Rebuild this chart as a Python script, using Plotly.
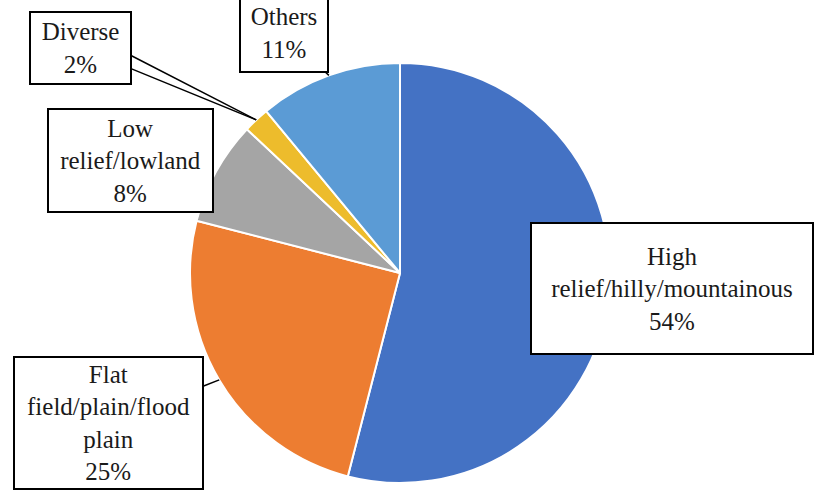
import math
import plotly.graph_objects as go

# ---- data ----
categories = ["High<br>relief/hilly/mountainous", "Flat<br>field/plain/flood<br>plain",
              "Low<br>relief/lowland", "Diverse", "Others"]
values = [54, 25, 8, 2, 11]
colors = ["#4472C4", "#ED7D31", "#A5A5A5", "#EDBC2C", "#5B9BD5"]

W, H = 814, 491
CX, CY, R = 400, 273, 210   # pie center / radius in px

fig = go.Figure(go.Pie(
    values=values, labels=categories, sort=False, direction="clockwise", rotation=0,
    marker=dict(colors=colors, line=dict(color="white", width=2)),
    textinfo="none", hoverinfo="label+percent", showlegend=False,
    domain=dict(x=[(CX - R) / W, (CX + R) / W], y=[(H - CY - R) / H, (H - CY + R) / H]),
))

# label boxes: (center x px, center y px, width, height, callout?)
boxes = [
    (672, 288.5, 280, 129, False),
    (108.5, 423, 187, 130, True),
    (130.5, 160.5, 163, 101, False),
    (80.5, 48, 99, 70, True),
    (284, 33, 86, 76, True),
]

total = sum(values)
cum = 0
FONT = dict(family="Liberation Serif", size=25, color="#1a1a1a")
for cat, v, (bx, by, bw, bh, arrow) in zip(categories, values, boxes):
    mid = (cum + v / 2) / total * 2 * math.pi
    cum += v
    pct = f"{round(v / total * 100)}%"
    text = f"{cat}<br>{pct}"
    common = dict(text=text, font=FONT, width=bw, height=bh, align="center", valign="middle",
                  bgcolor="white", bordercolor="black", borderwidth=2, borderpad=0,
                  xref="paper", yref="paper")
    if arrow:
        tx = CX + R * math.sin(mid)
        ty = CY - R * math.cos(mid)
        if cat == "Diverse":
            # second edge of the wedge-shaped callout
            ex, ey = bx + bw / 2, by + 7
            fig.add_annotation(x=tx / W, y=1 - ty / H, xref="paper", yref="paper",
                               ax=ex - tx, ay=ey - ty, text=" ", font=dict(size=1),
                               showarrow=True, arrowhead=0, arrowwidth=1.5,
                               arrowcolor="black", standoff=0, startstandoff=0)
        fig.add_annotation(
            x=tx / W, y=1 - ty / H,
            ax=bx - tx, ay=by - ty, showarrow=True, arrowhead=0, arrowwidth=1.5,
            arrowcolor="black", standoff=0, startstandoff=0, **common)
    else:
        fig.add_annotation(x=bx / W, y=1 - by / H, xanchor="center", yanchor="middle",
                           showarrow=False, **common)

fig.update_layout(width=W, height=H, margin=dict(l=0, r=0, t=0, b=0),
                  paper_bgcolor="white", plot_bgcolor="white")
fig.write_html("out.html")
